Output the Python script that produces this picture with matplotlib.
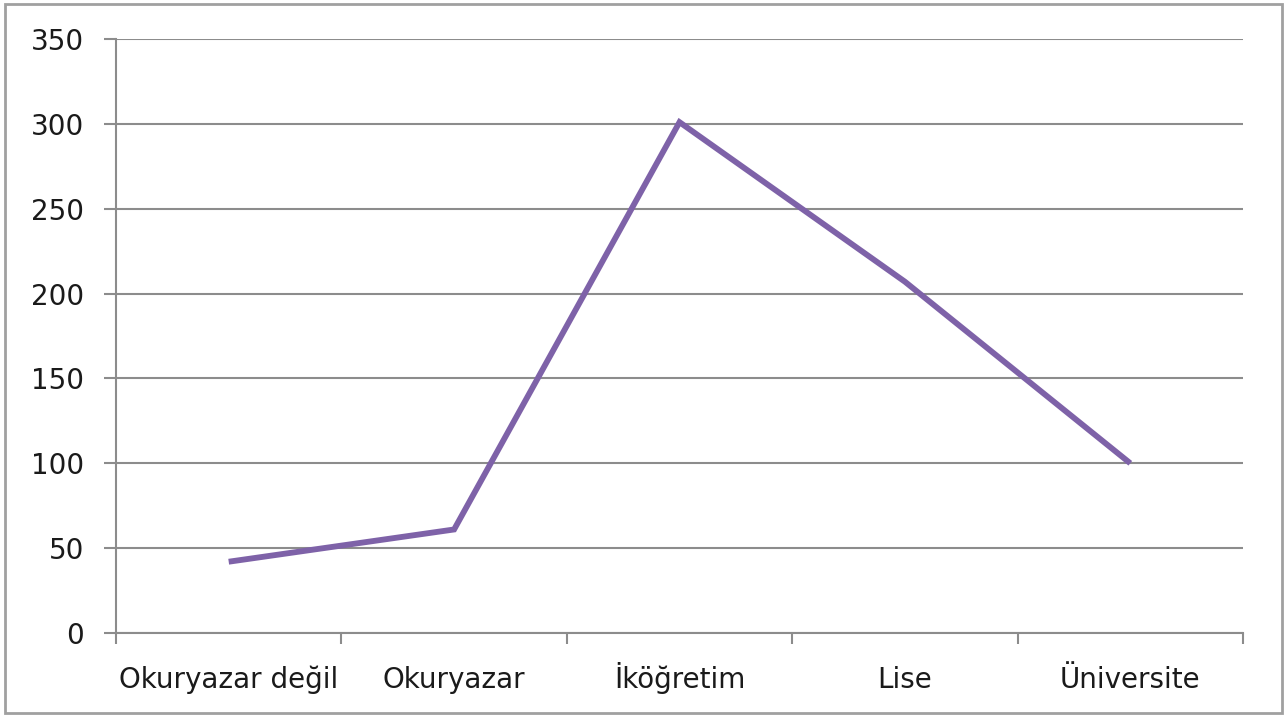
import matplotlib
matplotlib.use("Agg")
import matplotlib.pyplot as plt
from matplotlib.patches import Rectangle

categories = ["Okuryazar değil", "Okuryazar", "İköğretim", "Lise", "Üniversite"]
values = [42, 61, 301, 207, 100]
yticks = [0, 50, 100, 150, 200, 250, 300, 350]

plt.rcParams['font.family'] = ['DejaVu Sans']

fig = plt.figure(figsize=(12.88, 7.17), dpi=100)
ax = fig.add_axes([116/1288, 1 - 633/717, (1243 - 116)/1288, (633 - 39)/717])

x = [i + 0.5 for i in range(len(categories))]
ax.plot(x, values, color="#7E62A8", linewidth=4.2, solid_capstyle="butt", solid_joinstyle="miter", zorder=3)

ax.set_xlim(0, len(categories))
ax.set_ylim(0, 350)
ax.set_yticks(yticks)
ax.set_yticklabels([str(v) for v in yticks])
ax.yaxis.grid(True, color="#8C8C8C", linewidth=1.5)
ax.set_axisbelow(True)

ax.set_xticks(range(len(categories) + 1))
ax.set_xticklabels([])
ax.set_xticks(x, minor=True)
ax.set_xticklabels(categories, minor=True)
ax.tick_params(axis="x", which="major", length=8, width=1.5, color="#8C8C8C", direction="out")
ax.tick_params(axis="x", which="minor", length=0, pad=39.5, labelsize=20, labelcolor="#1a1a1a")
for lbl in ax.get_xticklabels(minor=True):
    lbl.set_verticalalignment("baseline")
ax.tick_params(axis="y", length=9, width=1.5, color="#8C8C8C", pad=14, labelsize=20, labelcolor="#1a1a1a")

for s in ["top", "right"]:
    ax.spines[s].set_visible(False)
for s in ["left", "bottom"]:
    ax.spines[s].set_color("#8C8C8C")
    ax.spines[s].set_linewidth(1.5)

fig.patches.append(Rectangle((5/1288, 4/717), 1277/1288, 709/717, transform=fig.transFigure,
                             fill=False, edgecolor="#A0A0A0", linewidth=2))

fig.savefig("out.png", dpi=100)
